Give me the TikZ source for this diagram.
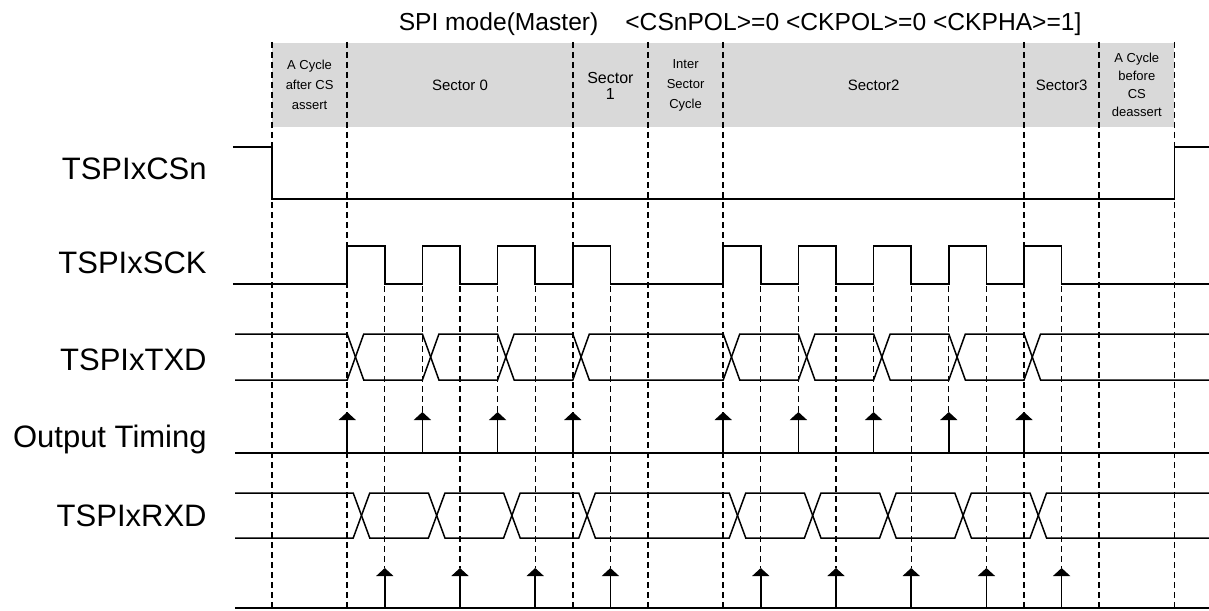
\documentclass[tikz,border=0pt]{standalone}
\usepackage{fontspec}
\setmainfont{Liberation Sans}
\usetikzlibrary{arrows.meta}

\begin{document}
\begin{tikzpicture}
  [
    x=18.8pt, y=-0.5pt,
    sig/.style = {line width=0.75pt},
    major/.style = {line width=0.75pt, dash pattern=on 3pt off 2pt},
    minor/.style = {line width=0.65pt, dash pattern=on 3pt off 2pt},
    tick/.style = {line width=0.75pt, -{Triangle[width=8.5pt, length=4pt]}},
    lbl/.style = {anchor=base east, inner sep=0pt, font=\fontsize{15.5}{18}\selectfont},
    hdr/.style = {align=center, inner sep=0pt, font=\fontsize{7.5}{8}\selectfont},
    hdrs/.style = {align=center, inner sep=0pt, font=\fontsize{6.5}{10}\selectfont}
  ]
  \useasboundingbox (-7.234,0) rectangle (24.92,610);

  \node [anchor=base, inner sep=0pt, font=\fontsize{12.3}{14}\selectfont] (title) at (12.45,31)
    {SPI mode(Master)\hspace{1.1em}<CSnPOL>=0 <CKPOL>=0 <CKPHA>=1]};

  \fill [black!15] (0,43) rectangle (24,127);
  \node [hdrs] (h1) at (1,85) {A Cycle\\after CS\\assert};
  \node [hdr]  (h2) at (5,85) {Sector 0};
  \node [hdr, font=\fontsize{8}{8}\selectfont] (h3) at (9,86) {Sector\\1};
  \node [hdrs] (h4) at (11,85) {Inter\\Sector\\Cycle};
  \node [hdr]  (h5) at (16,85) {Sector2};
  \node [hdr]  (h6) at (21,85) {Sector3};
  \node [hdrs, font=\fontsize{6.5}{9}\selectfont] (h7) at (23,85) {A Cycle\\before\\CS\\deassert};

  \node [lbl] (cs)  at (-1.729,179) {TSPIxCSn};
  \node [lbl] (sck) at (-1.729,273) {TSPIxSCK};
  \node [lbl] (txd) at (-1.729,370) {TSPIxTXD};
  \node [lbl] (out) at (-1.729,447) {Output Timing};
  \node [lbl] (rxd) at (-1.729,526) {TSPIxRXD};

  % sector borders and clock edges
  \draw [major] (0,42) -- (0,610) (2,42) -- (2,610) (8,42) -- (8,610) (10,42) -- (10,610)
    (12,42) -- (12,610) (20,42) -- (20,610) (22,42) -- (22,610) (24,42) -- (24,610);
  \draw [minor] (4,286) -- (4,412) (6,286) -- (6,412) (14,286) -- (14,412)
    (16,286) -- (16,412) (18,286) -- (18,412);
  \draw [minor] (3,286) -- (3,568) (5,286) -- (5,568) (7,286) -- (7,568) (9,286) -- (9,568)
    (13,286) -- (13,568) (15,286) -- (15,568) (17,286) -- (17,568) (19,286) -- (19,568)
    (21,286) -- (21,568);

  % CSn
  \draw [sig] (-1.04,147) -- (0,147) -- (0,199) -- (24,199) -- (24,147) -- (24.92,147);

  % SCK
  \draw [sig] (-1.04,284) -- (2,284) |- (3,246) |- (4,284) |- (5,246) |- (6,284) |- (7,246)
    |- (8,284) |- (9,246) |- (12,284) |- (13,246) |- (14,284) |- (15,246) |- (16,284)
    |- (17,246) |- (18,284) |- (19,246) |- (20,284) |- (21,246) |- (24.92,284);

  % TXD
  \draw [sig] (-0.98,334) -- (2,334) -- (2.44,380) -- (4,380) -- (4.44,334) -- (6,334)
    -- (6.44,380) -- (8,380) -- (8.44,334) -- (12,334) -- (12.44,380) -- (14,380)
    -- (14.44,334) -- (16,334) -- (16.44,380) -- (18,380) -- (18.44,334) -- (20,334)
    -- (20.44,380) -- (24.92,380);
  \draw [sig] (-0.98,380) -- (2,380) -- (2.44,334) -- (4,334) -- (4.44,380) -- (6,380)
    -- (6.44,334) -- (8,334) -- (8.44,380) -- (12,380) -- (12.44,334) -- (14,334)
    -- (14.44,380) -- (16,380) -- (16.44,334) -- (18,334) -- (18.44,380) -- (20,380)
    -- (20.44,334) -- (24.92,334);

  % output timing
  \draw [sig] (-0.98,453) -- (24.92,453);
  \draw [tick] (2,453) -- (2,412);
  \draw [tick] (4,453) -- (4,412);
  \draw [tick] (6,453) -- (6,412);
  \draw [tick] (8,453) -- (8,412);
  \draw [tick] (12,453) -- (12,412);
  \draw [tick] (14,453) -- (14,412);
  \draw [tick] (16,453) -- (16,412);
  \draw [tick] (18,453) -- (18,412);
  \draw [tick] (20,453) -- (20,412);

  % RXD
  \draw [sig] (-0.98,493) -- (2.16,493) -- (2.6,538) -- (4.16,538) -- (4.6,493) -- (6.16,493)
    -- (6.6,538) -- (8.16,538) -- (8.6,493) -- (12.16,493) -- (12.6,538) -- (14.16,538)
    -- (14.6,493) -- (16.16,493) -- (16.6,538) -- (18.16,538) -- (18.6,493) -- (20.16,493)
    -- (20.6,538) -- (24.92,538);
  \draw [sig] (-0.98,538) -- (2.16,538) -- (2.6,493) -- (4.16,493) -- (4.6,538) -- (6.16,538)
    -- (6.6,493) -- (8.16,493) -- (8.6,538) -- (12.16,538) -- (12.6,493) -- (14.16,493)
    -- (14.6,538) -- (16.16,538) -- (16.6,493) -- (18.16,493) -- (18.6,538) -- (20.16,538)
    -- (20.6,493) -- (24.92,493);

  % sampling
  \draw [sig] (-0.98,608) -- (24.92,608);
  \draw [tick] (3,608) -- (3,568);
  \draw [tick] (5,608) -- (5,568);
  \draw [tick] (7,608) -- (7,568);
  \draw [tick] (9,608) -- (9,568);
  \draw [tick] (13,608) -- (13,568);
  \draw [tick] (15,608) -- (15,568);
  \draw [tick] (17,608) -- (17,568);
  \draw [tick] (19,608) -- (19,568);
  \draw [tick] (21,608) -- (21,568);

\end{tikzpicture}
\end{document}
